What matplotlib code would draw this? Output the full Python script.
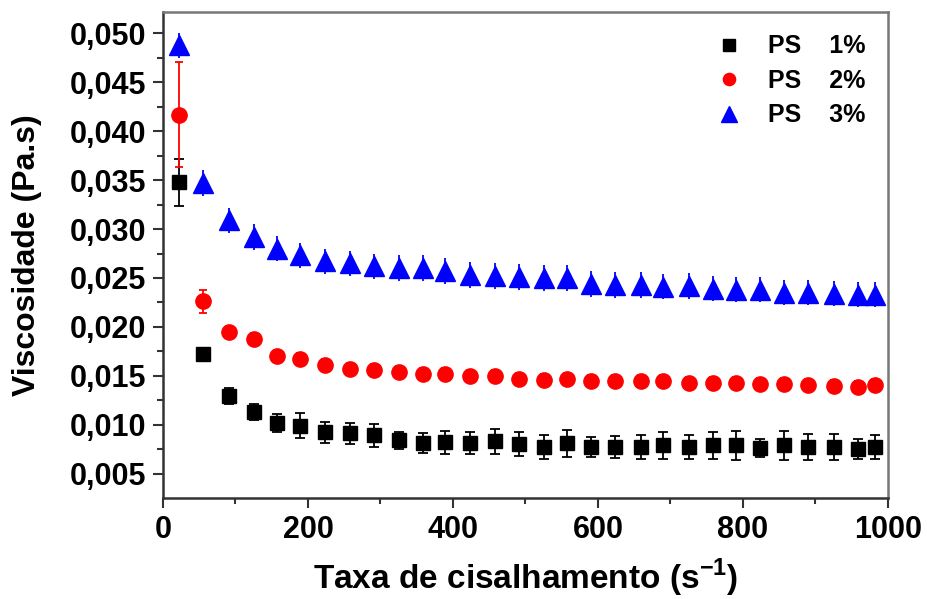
import matplotlib
matplotlib.use('Agg')
import matplotlib.pyplot as plt

# Shear rate (s^-1)
shear_rate = [22, 55, 91, 125, 157, 189, 223, 258, 291, 325,
              358, 389, 423, 458, 491, 525, 557, 591, 623, 659,
              690, 725, 758, 790, 823, 857, 890, 925, 958, 982]

# Viscosity (Pa.s) for each PS concentration
visc_ps1 = [0.0348, 0.0172, 0.0129, 0.0113, 0.0102, 0.0099, 0.0092, 0.0091, 0.0089, 0.0084,
            0.0081, 0.0082, 0.0081, 0.0083, 0.0080, 0.0077, 0.0081, 0.0077, 0.0077, 0.0077,
            0.0079, 0.0077, 0.0079, 0.0079, 0.0076, 0.0079, 0.0077, 0.0077, 0.0075, 0.0077]
err_ps1 = [0.0024, 0.0004, 0.0008, 0.0008, 0.0009, 0.0013, 0.0011, 0.0011, 0.0012, 0.0009,
           0.0010, 0.0012, 0.0011, 0.0013, 0.0012, 0.0012, 0.0014, 0.0010, 0.0011, 0.0012,
           0.0014, 0.0012, 0.0014, 0.0015, 0.0009, 0.0015, 0.0013, 0.0013, 0.0010, 0.0012]

visc_ps2 = [0.0417, 0.0226, 0.0195, 0.0188, 0.0170, 0.0167, 0.0161, 0.0157, 0.0156, 0.0154,
            0.0152, 0.0152, 0.0150, 0.0150, 0.0147, 0.0146, 0.0147, 0.0145, 0.0145, 0.0145,
            0.0145, 0.0143, 0.0143, 0.0143, 0.0142, 0.0142, 0.0141, 0.0140, 0.0139, 0.0141]
err_ps2 = [0.0054, 0.0012, 0.0006, 0.0006, 0.0006, 0.0006, 0.0006, 0.0006, 0.0006, 0.0006,
           0.0006, 0.0006, 0.0006, 0.0006, 0.0006, 0.0006, 0.0006, 0.0006, 0.0006, 0.0006,
           0.0006, 0.0006, 0.0006, 0.0006, 0.0006, 0.0006, 0.0006, 0.0006, 0.0006, 0.0006]

visc_ps3 = [0.0488, 0.0347, 0.0309, 0.0292, 0.0280, 0.0273, 0.0267, 0.0265, 0.0262, 0.0260,
            0.0260, 0.0257, 0.0253, 0.0252, 0.0251, 0.0250, 0.0250, 0.0244, 0.0243, 0.0243,
            0.0241, 0.0242, 0.0239, 0.0238, 0.0238, 0.0235, 0.0235, 0.0234, 0.0233, 0.0233]
err_ps3 = [0.0013] * 30

labels = ['PS    1%', 'PS    2%', 'PS    3%']

xticks = [0, 200, 400, 600, 800, 1000]
xtick_labels = ['0', '200', '400', '600', '800', '1000']
yticks = [0.005, 0.010, 0.015, 0.020, 0.025, 0.030, 0.035, 0.040, 0.045, 0.050]
ytick_labels = ['0,005', '0,010', '0,015', '0,020', '0,025',
                '0,030', '0,035', '0,040', '0,045', '0,050']

plt.rcParams['font.family'] = ['Liberation Sans', 'DejaVu Sans']
plt.rcParams['font.weight'] = 'bold'
plt.rcParams['mathtext.fontset'] = 'custom'
plt.rcParams['mathtext.bf'] = 'Liberation Sans:bold'
plt.rcParams['mathtext.rm'] = 'Liberation Sans:bold'

fig = plt.figure(figsize=(9.27, 5.99), dpi=100)
ax = fig.add_axes([0.1758, 0.1686, 0.7821, 0.8114])

# Draw series
e1 = ax.errorbar(shear_rate, visc_ps1, yerr=err_ps1, fmt='s', color='black',
                 ms=10, elinewidth=1.3, capsize=3.5, capthick=1.3)
e2 = ax.errorbar(shear_rate, visc_ps2, yerr=err_ps2, fmt='o', color='red',
                 ms=11, elinewidth=1.3, capsize=3, capthick=1.3)
e3 = ax.errorbar(shear_rate, visc_ps3, yerr=err_ps3, fmt='^', color='blue',
                 ms=14, elinewidth=1.3, capsize=0)

# Axes limits and ticks
ax.set_xlim(0, 1000)
ax.set_ylim(0.0025, 0.0522)
ax.set_xticks(xticks, labels=xtick_labels)
ax.set_yticks(yticks, labels=ytick_labels)
ax.set_xticks(range(100, 1000, 200), minor=True)
ax.set_yticks([v + 0.0025 for v in yticks[:-1]], minor=True)
ax.tick_params(which='major', direction='out', length=7, width=1.5,
               labelsize=22, pad=5, colors='#333333', labelcolor='black')
ax.tick_params(which='minor', direction='out', length=4, width=1.5, colors='#333333')
for lab in ax.get_xticklabels() + ax.get_yticklabels():
    lab.set_fontweight('bold')

for side in ['left', 'bottom']:
    ax.spines[side].set_linewidth(1.8)
    ax.spines[side].set_color('#333333')
for side in ['top', 'right']:
    ax.spines[side].set_linewidth(1.8)
    ax.spines[side].set_color('#777777')

ax.set_xlabel('Taxa de cisalhamento (s$^{\\mathrm{-1}}$)', fontsize=24,
              fontweight='bold', labelpad=9)
ax.set_ylabel('Viscosidade (Pa.s)', fontsize=23, fontweight='bold', labelpad=20)

leg = ax.legend([e1[0], e2[0], e3[0]], labels, loc='upper right', frameon=False,
                prop={'size': 18, 'weight': 'bold'}, handlelength=1.0,
                handletextpad=1.05, labelspacing=0.42, borderaxespad=0.5,
                markerscale=0.8)

fig.savefig('out.png', dpi=100)
